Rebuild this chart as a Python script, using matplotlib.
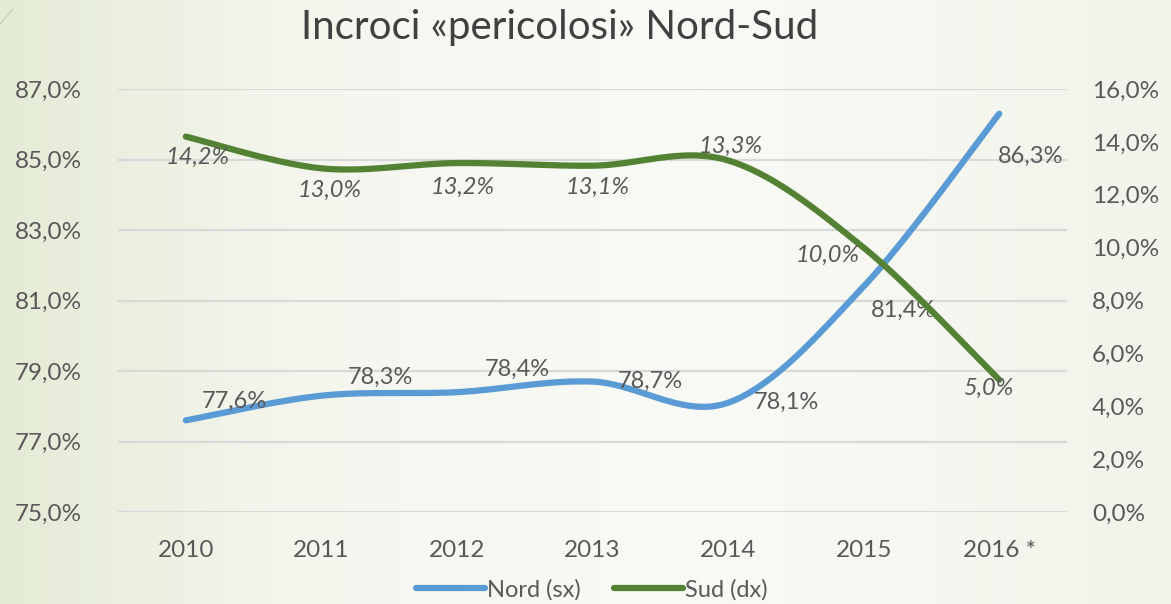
import numpy as np
import matplotlib.pyplot as plt
from matplotlib.colors import LinearSegmentedColormap

plt.rcParams['font.family'] = ['Lato', 'DejaVu Sans']

years = ['2010', '2011', '2012', '2013', '2014', '2015', '2016 *']
nord = [77.6, 78.3, 78.4, 78.7, 78.1, 81.4, 86.3]
sud = [14.2, 13.0, 13.2, 13.1, 13.3, 10.0, 5.0]
left_ticks = [75, 77, 79, 81, 83, 85, 87]
right_ticks = [0, 2, 4, 6, 8, 10, 12, 14, 16]

# label offsets in pixels (dx, dy)
nord_off = [(49, 19), (59, 18), (60, 23), (58, 0), (58, 0), (40, -24), (31, -43)]
sud_off = [(12, -21), (8, -22), (6, -24), (5, -22), (3, 14), (-36, -8), (-10, -8)]

BLUE = '#5b9bd5'
GREEN = '#548235'
GREY = '#595959'


def smooth(xs, ys, n=40):
    # excel-like smoothed line (catmull-rom as bezier)
    xs = np.asarray(xs, float)
    ys = np.asarray(ys, float)
    px = np.concatenate([[xs[0]], xs, [xs[-1]]])
    py = np.concatenate([[ys[0]], ys, [ys[-1]]])
    outx, outy = [], []
    t = np.linspace(0, 1, n)
    for i in range(1, len(px) - 2):
        p0x, p0y = px[i], py[i]
        p3x, p3y = px[i + 1], py[i + 1]
        c1x = p0x + (px[i + 1] - px[i - 1]) / 6
        c1y = p0y + (py[i + 1] - py[i - 1]) / 6
        c2x = p3x - (px[i + 2] - px[i]) / 6
        c2y = p3y - (py[i + 2] - py[i]) / 6
        bx = (1 - t) ** 3 * p0x + 3 * (1 - t) ** 2 * t * c1x + 3 * (1 - t) * t ** 2 * c2x + t ** 3 * p3x
        by = (1 - t) ** 3 * p0y + 3 * (1 - t) ** 2 * t * c1y + 3 * (1 - t) * t ** 2 * c2y + t ** 3 * p3y
        outx.extend(bx)
        outy.extend(by)
    return np.array(outx), np.array(outy)


def pct(v):
    return f'{v:.1f}%'.replace('.', ',')


fig = plt.figure(figsize=(11.71, 6.04), dpi=100)

# background gradient
bg = fig.add_axes([0, 0, 1, 1], zorder=-10)
cmap = LinearSegmentedColormap.from_list('bg', [(0, '#e4ebd5'), (0.25, '#f4f6ee'), (0.6, '#f9faf6'), (1, '#f1f4ea')])
bg.imshow(np.linspace(0, 1, 256)[None, :], aspect='auto', cmap=cmap, extent=[0, 1, 0, 1])
bg.plot([0, 0.011], [0.96, 0.985], color='#c5d0ad', lw=0.8)
bg.set_xlim(0, 1)
bg.set_ylim(0, 1)
bg.axis('off')

ax = fig.add_axes([0.1008, 0.1523, 0.8104, 0.7003])
ax2 = ax.twinx()
ax.patch.set_visible(False)

x = np.arange(len(years))

for yv in left_ticks:
    ax.axhline(yv, color='#d9d9d9', lw=1.6, zorder=0)

sx, sy = smooth(x, nord)
ax.plot(sx, sy, color=BLUE, lw=4.5, solid_capstyle='round', label='Nord (sx)', zorder=3)
gx, gy = smooth(x, sud)
ax2.plot(gx, gy, color=GREEN, lw=4.5, solid_capstyle='round', label='Sud (dx)', zorder=3)

ax.set_xlim(-0.5, len(years) - 0.5)
ax.set_ylim(75, 87)
ax2.set_ylim(0, 16)
ax.set_yticks(left_ticks)
ax.set_yticklabels([pct(v) for v in left_ticks])
ax2.set_yticks(right_ticks)
ax2.set_yticklabels([pct(v) for v in right_ticks])
ax.set_xticks(x)
ax.set_xticklabels(years)

for a in (ax, ax2):
    for s in a.spines.values():
        s.set_visible(False)
    a.tick_params(length=0, labelsize=17.5, colors=GREY)
ax.tick_params(axis='y', pad=26)
ax2.tick_params(axis='y', pad=18)
ax.tick_params(axis='x', pad=20)

for i, v in enumerate(nord):
    ax.annotate(pct(v), (x[i], v), xytext=nord_off[i], textcoords='offset pixels',
                ha='center', va='center', fontsize=17, color=GREY, zorder=5)
for i, v in enumerate(sud):
    ax2.annotate(pct(v), (x[i], v), xytext=sud_off[i], textcoords='offset pixels',
                 ha='center', va='center', fontsize=17, color=GREY, style='italic', zorder=5)

fig.text(560 / 1171, 1 - 28 / 604, 'Incroci «pericolosi» Nord-Sud', ha='center', va='center',
         fontsize=29, color='#404040')

h1, l1 = ax.get_legend_handles_labels()
h2, l2 = ax2.get_legend_handles_labels()
fig.legend(h1 + h2, l1 + l2, loc='center', bbox_to_anchor=(592 / 1171, 1 - 590 / 604), ncol=2,
           frameon=False, fontsize=17, handlelength=2.9, handletextpad=0.1, columnspacing=1.4,
           labelcolor=GREY)

fig.savefig('out.png', dpi=100)
